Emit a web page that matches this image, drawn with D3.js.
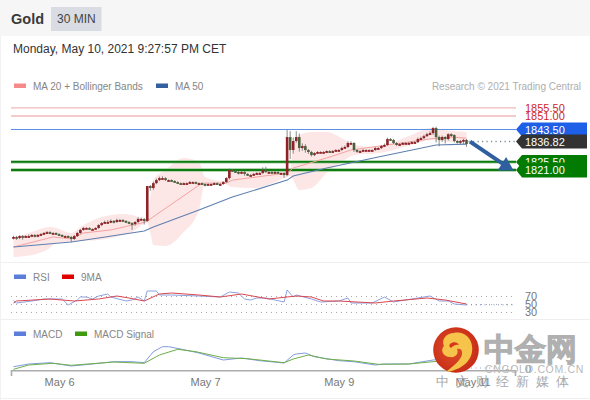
<!DOCTYPE html>
<html><head><meta charset="utf-8">
<script src="https://cdn.jsdelivr.net/npm/d3@7"></script>
<style>
html,body{margin:0;padding:0;background:#fff;overflow:hidden}
text{font-family:"Liberation Sans",Arial,sans-serif}
</style></head><body><svg id="c" width="590" height="400"></svg>
<script>
// ---------- Data ----------
const symbol = "Gold";
const timeframe = "30 MIN";
const stamp = "Monday, May 10, 2021 9:27:57 PM CET";
const credit = "Research © 2021 Trading Central";
const firstOpen = 1783.2;
const closes = [
1783.8,1783.2,1784.3,1783.8,1784.3,1784.3,1784.9,1784.3,1784.9,1785.4,
1786.0,1786.5,1786.0,1786.0,1785.4,1784.9,1784.3,1784.3,1783.8,1782.7,
1784.3,1786.0,1787.7,1788.8,1788.8,1788.2,1788.2,1788.8,1790.4,1791.5,
1792.1,1792.1,1792.7,1792.1,1793.2,1793.2,1792.7,1792.1,1791.5,1791.0,
1792.1,1793.8,1793.8,1792.7,1812.1,1811.0,1813.7,1815.4,1816.5,1816.5,
1815.4,1815.4,1814.9,1814.3,1813.7,1813.2,1813.7,1813.7,1814.3,1814.3,
1813.7,1813.7,1813.2,1812.7,1813.2,1813.2,1813.7,1813.2,1813.2,1814.3,
1816.5,1821.0,1820.4,1819.9,1819.3,1819.9,1818.8,1818.2,1818.2,1818.8,
1819.3,1819.3,1821.0,1819.9,1819.9,1819.3,1819.9,1819.3,1819.3,1818.2,
1839.3,1832.1,1837.1,1839.3,1833.2,1834.3,1832.1,1831.0,1829.3,1830.4,
1831.0,1831.0,1831.0,1831.5,1831.0,1831.5,1832.1,1832.1,1833.2,1833.8,
1836.0,1836.0,1832.1,1831.5,1831.5,1832.1,1832.1,1832.1,1832.1,1833.2,
1833.2,1834.3,1834.9,1838.2,1837.7,1836.0,1834.9,1835.4,1836.0,1836.0,
1836.0,1836.5,1836.5,1838.2,1838.7,1839.8,1840.9,1841.5,1844.3,1839.3,
1837.7,1839.3,1838.2,1840.9,1840.4,1837.1,1836.5,1837.1,1837.7,1835.4];
const wickUp = [
.6,.6,.5,.6,.5,.8,.5,.5,.6,.5,.6,.6,.5,.5,.4,.4,.4,.4,.4,.5,
.6,.6,.5,.5,.4,.4,.4,.4,.5,.6,.8,1.0,.8,.5,.8,.6,.6,.5,.5,.5,
.5,1.0,.8,.5,.0,.5,.8,.8,.8,1.0,.5,.4,.4,.4,.4,.4,.4,.4,.6,.4,
.4,.4,.4,.4,.4,.4,.4,.4,.5,.5,.5,.8,.5,.5,.5,.8,.5,.5,.5,.5,
.5,.5,1.5,1.8,.4,.5,.5,.4,.4,.5,3.9,3.3,2.0,3.3,2.0,1.5,1.0,.6,.6,.5,
.5,.4,.5,.4,.5,.6,.5,.5,.8,.8,1.0,1.0,.5,.5,.5,.5,.4,.4,.4,.5,
.5,.6,.8,.8,.6,.5,.5,.5,.5,.5,.6,.5,.6,.8,.8,.8,.8,1.0,.6,.8,
.8,.8,.5,.5,.5,.5,.5,.6,.6,.5];
const wickDown = [
.8,1.0,.6,1.5,.5,.6,.6,.8,.6,.6,.5,.5,.5,.5,.5,.5,.5,.4,.5,1.8,
.6,.5,.5,.5,.5,.5,.6,.5,.6,.6,.5,.6,.6,.8,.5,.6,.6,.6,.6,3.3,
1.0,.6,.8,2.0,.5,1.5,1.0,.6,.6,1.0,.5,.5,.5,.5,.5,.5,.5,.5,.5,.5,
.6,.5,.5,.8,.5,.5,.5,.5,.8,.5,.5,.8,.5,.5,.8,.6,1.0,.5,.8,.5,
.5,.5,.6,.6,.5,.5,.5,.5,.5,1.5,.6,5.0,2.0,1.0,2.0,1.5,1.5,1.0,.8,.6,
.5,.5,.5,.5,.5,.5,.5,.5,.5,.5,.6,.5,1.0,1.0,.5,.5,.6,.5,.5,.5,
.5,.5,.5,.5,.6,.6,.5,.5,.5,.5,.5,.5,.5,.5,.5,.5,.5,.5,1.0,3.0,
3.5,1.0,2.5,.8,1.0,.8,.8,1.2,1.6,1.5];

const ma20Idx = [0,13,19,23,32,42,44,62,70,72,90,92,103,111,139,144,149];
const ma20Val = [1778.2,1783.8,1782.7,1786.0,1787.7,1791.5,1792.7,1813.7,1813.7,1815.4,1819.3,1822.1,1827.7,1832.1,1838.7,1839.3,1838.7];
const ma50Idx = [0,19,28,43,46,61,72,90,92,103,120,139,149];
const ma50Val = [1778.2,1781.0,1783.2,1787.1,1789.3,1798.8,1806.0,1815.4,1817.7,1822.1,1828.2,1834.9,1835.4];

const bandIdx = [0,6,12,14,19,22,28,36,39,44,45,46,50,56,61,63,69,72,79,90,91,92,94,98,103,109,112,120,125,131,137,144,149];
const bandUpper = [1783.2,1786.5,1789.3,1788.8,1786.0,1789.3,1794.3,1796.5,1796.0,1793.2,1806.0,1815.4,1821.0,1827.7,1825.4,1817.1,1814.9,1821.0,1822.1,1821.0,1819.9,1834.9,1840.4,1842.1,1842.1,1837.7,1834.9,1833.8,1836.5,1840.4,1844.3,1842.7,1842.1];
const bandLower = [1772.7,1773.8,1777.7,1780.4,1781.0,1781.5,1782.1,1784.9,1786.5,1791.5,1786.0,1779.3,1778.8,1786.5,1798.8,1813.7,1813.7,1811.5,1811.0,1817.1,1817.7,1815.4,1809.9,1811.0,1819.3,1826.5,1829.3,1830.4,1832.1,1834.9,1837.7,1836.5,1836.5];

const resistLevels = [1855.50,1851.00];
const pivotLevel = 1843.50;
const lastPrice = 1836.82;
const supportLevels = [1825.50,1821.00];
const arrowIdx = [150,164.5];
const arrowVal = [1836.8,1821.0];

const rsiIdx = [0,1,6,10,16,18,21,22,24,26,28,31,32,37,39,41,43,44,47,48,52,61,68,71,74,76,78,80,83,89,90,92,93,98,101,107,110,111,118,122,125,131,137,140,143,145,149];
const rsiVal = [58.3,52.5,57.5,62.5,62.5,47.5,60,67.5,67.5,62.5,70,75,67.5,57.5,60,67.5,57.5,82.5,82.5,72.5,72.5,70,67.5,80,77.5,62.5,60,65,65,55,85,67.5,72.5,62.5,55,57.5,65,52.5,52.5,67.5,55,62.5,70,57.5,57.5,50,47.5];
const rsiMaIdx = [0,1,12,16,20,28,34,38,43,48,52,61,68,75,84,90,93,98,102,107,119,125,136,142,149];
const rsiMaVal = [52.5,57.5,62.5,60,57.5,62.5,70,65,57.5,75,77.5,72.5,67.5,75,62.5,67.5,70,67.5,57.5,57.5,52.5,57.5,65,60,50];
const rsiTicks = [70,50,30];

const macdIdx = [0,5,12,19,26,33,39,43,46,49,51,55,61,69,75,81,89,92,93,96,99,107,112,119,122,130,138,149];
const macdVal = [0.65,2,2.65,1,2,3.15,3.15,2.65,8.15,10.65,10.65,9.5,7.5,4,5,3.65,2.5,6.5,7,7.5,5.65,3.65,3.15,1.5,2,2,4,5];
const signalIdx = [0,5,13,19,33,43,48,54,60,69,77,89,92,97,103,112,120,130,138,149];
const signalVal = [-0.65,1.5,2.35,1.35,3,2.35,6.5,9.35,8.15,5.15,4.65,2.65,4.5,6.5,4.5,3.5,1.85,2,3.15,4.5];

const dateTickIdx = [15,63,107,151];
const dateTickLabels = ["May 6","May 7","May 9","May 11"];

// ---------- Scales ----------
const x = d3.scaleLinear().domain([0,149]).range([13.5,466.5]);
const y = d3.scaleLinear().domain([1821,1843.5]).range([170,129.5]);
const yRsi = d3.scaleLinear().domain([30,70]).range([312,296]);
const yMacd = d3.scaleLinear().domain([0,10]).range([368,348]);
const L = 11, R = 516;
const svg = d3.select("#c");

// ---------- Chrome ----------
svg.append("rect").attr("width",590).attr("height",400).attr("fill","#fff");
svg.append("rect").attr("width",590).attr("height",36).attr("fill","#f6f6f6");
svg.append("rect").attr("x",51).attr("y",7).attr("width",50.5).attr("height",24).attr("fill","#d9dce3");
svg.append("text").attr("x",11).attr("y",24).attr("font-size",14.5).attr("font-weight",700).attr("fill","#3a3a3a").text(symbol);
svg.append("text").attr("x",57).attr("y",23).attr("font-size",12).attr("fill","#444").text(timeframe);
svg.append("text").attr("x",13).attr("y",53).attr("font-size",12).attr("fill","#333").text(stamp);
[262,319,398].forEach(v=>svg.append("line").attr("x1",0).attr("x2",590).attr("y1",v+.5).attr("y2",v+.5).attr("stroke","#efefef"));
svg.append("line").attr("x1",.5).attr("x2",.5).attr("y1",36).attr("y2",400).attr("stroke","#f2f2f2");

// Legend helper
function legend(px,py,color,label){
  svg.append("rect").attr("x",px).attr("y",py-2.5).attr("width",12).attr("height",4.5).attr("fill",color);
  svg.append("text").attr("x",px+19).attr("y",py+3.5).attr("font-size",10).attr("fill","#868686").text(label);
}
legend(14,86,"#f58a8a","MA 20 + Bollinger Bands");
legend(156,86,"#34609f","MA 50");
svg.append("text").attr("x",581).attr("y",90).attr("text-anchor","end").attr("font-size",10).attr("fill","#aeaeae").text(credit);
legend(14,277,"#5b7fd9","RSI");
legend(62,277,"#e00000","9MA");
legend(14,334,"#5b7fd9","MACD");
legend(75,334,"#3f9a10","MACD Signal");

// ---------- Main panel ----------
const band = bandIdx.map((d,i)=>({i:d,u:bandUpper[i],l:bandLower[i]}));
svg.append("path").attr("d",d3.area().x(d=>x(d.i)).y0(d=>y(d.l)).y1(d=>y(d.u)).curve(d3.curveMonotoneX)(band)).attr("fill","#fde6e6");

const hl = (v,c,w)=>svg.append("line").attr("x1",L).attr("x2",R).attr("y1",y(v)).attr("y2",y(v)).attr("stroke",c).attr("stroke-width",w);
resistLevels.forEach(v=>hl(v,"#f2b8b8",1.4));
hl(pivotLevel,"#5a8fe6",1);
supportLevels.forEach(v=>{hl(v,"#9ccb9c",3.4);hl(v,"#0f7a0f",1.9);});

const line2 = (xs,ys,sc,col,w)=>svg.append("path")
  .attr("d",d3.line().x(d=>x(d[0])).y(d=>sc(d[1])).curve(d3.curveLinear)(xs.map((d,i)=>[d,ys[i]])))
  .attr("fill","none").attr("stroke",col).attr("stroke-width",w);
line2(ma20Idx,ma20Val,y,"#f5a3a3",1);
line2(ma50Idx,ma50Val,y,"#5f7fb0",1.1);

// Candles
const candles = closes.map((c,i)=>{
  const o = i? closes[i-1]:firstOpen;
  return {i,o,c,h:Math.max(o,c)+wickUp[i],l:Math.min(o,c)-wickDown[i]};
});
const cg = svg.append("g");
cg.selectAll("line").data(candles).join("line")
  .attr("x1",d=>x(d.i)).attr("x2",d=>x(d.i)).attr("y1",d=>y(d.h)).attr("y2",d=>y(d.l))
  .attr("stroke","#6d6d6d").attr("stroke-width",.8);
cg.selectAll("rect").data(candles).join("rect")
  .attr("x",d=>x(d.i)-1.3).attr("width",2.6)
  .attr("y",d=>y(Math.max(d.o,d.c)))
  .attr("height",d=>Math.max(1.8,Math.abs(y(d.o)-y(d.c))))
  .attr("fill",d=>d.c>=d.o?"#8e2226":"#4c5f3c");

// Last price dotted extension
svg.append("line").attr("x1",x(149)+2).attr("x2",R).attr("y1",y(lastPrice)).attr("y2",y(lastPrice))
  .attr("stroke","#7e8a92").attr("stroke-width",1.6).attr("stroke-dasharray","1.2 3.3");

// Forecast arrow
const ax0=x(arrowIdx[0]),ay0=y(arrowVal[0]),ax1=x(arrowIdx[1]),ay1=y(arrowVal[1]);
svg.append("line").attr("x1",ax0+.5).attr("y1",ay0).attr("x2",ax0+33).attr("y2",ay0+22)
  .attr("stroke","#2f5f9e").attr("stroke-width",4);
svg.append("path").attr("d",`M${ax1},${ay1+.5}L${ax1-16},${ay1+.5}L${ax1-7.5},${ay1-13}Z`).attr("fill","#2f5f9e");

// Price labels
resistLevels.forEach(v=>svg.append("text").attr("x",525).attr("y",y(v)+4).attr("font-size",11).attr("fill","#cc1f26").text(v.toFixed(2)));
function tag(v,color,h){
  const c=y(v),t=h/2;
  svg.append("path").attr("d",`M516,${c}L522,${c-t}L587,${c-t}L587,${c+t}L522,${c+t}Z`).attr("fill",color);
  svg.append("text").attr("x",525).attr("y",c+4).attr("font-size",11).attr("fill","#fff").text(v.toFixed(2));
}
tag(supportLevels[0],"#027b02",14);
tag(supportLevels[1],"#027b02",15);
tag(pivotLevel,"#1d5fe6",14);
tag(lastPrice,"#333333",14);

// ---------- RSI panel ----------
rsiTicks.forEach(t=>{
  svg.append("line").attr("x1",L).attr("x2",R).attr("y1",yRsi(t)+.5).attr("y2",yRsi(t)+.5)
    .attr("stroke","#a9a9a9").attr("stroke-width",1).attr("stroke-dasharray","1 4");
});
d3.select(svg.node()).selectAll(null).data(rsiTicks).join("text")
  .attr("x",525).attr("y",t=>yRsi(t)+4).attr("font-size",11).attr("fill","#777").text(t=>t);
svg.append("line").attr("x1",x(149)).attr("x2",R).attr("y1",yRsi(48)).attr("y2",yRsi(48))
  .attr("stroke","#7d8fc8").attr("stroke-width",1).attr("stroke-dasharray","1 3.5");
line2(rsiIdx,rsiVal,yRsi,"#7f97dd",.9);
line2(rsiMaIdx,rsiMaVal,yRsi,"#d9474f",1);

// ---------- MACD panel ----------
line2(macdIdx,macdVal,yMacd,"#7f9be0",1);
line2(signalIdx,signalVal,yMacd,"#6fae4a",1);
svg.append("line").attr("x1",x(149)).attr("x2",R).attr("y1",yMacd(0)).attr("y2",yMacd(0))
  .attr("stroke","#9aa6c0").attr("stroke-width",1).attr("stroke-dasharray","1 3.5");
svg.append("text").attr("x",525).attr("y",yMacd(0)+5).attr("font-size",11).attr("fill","#777").text("0");

// Time axis
const axis = d3.axisBottom(x).tickValues(dateTickIdx).tickFormat((d,i)=>dateTickLabels[i]).tickSize(0).tickPadding(8);
const ax = svg.append("g").attr("transform","translate(0,370)").call(axis);
ax.select(".domain").remove();
ax.selectAll("text").attr("font-size",11).attr("fill","#777").attr("font-family","Liberation Sans");
svg.append("path").attr("d",`M${L+.5},376V370.7H${R-.5}V376`).attr("fill","none").attr("stroke","#ababab").attr("stroke-width",1.6);

// ---------- Watermark ----------
const wm = svg.append("g");
const grad = svg.append("defs").append("radialGradient").attr("id","g").attr("cx",".45").attr("cy",".45").attr("r",".6");
grad.append("stop").attr("offset","0").attr("stop-color","#e2512a");
grad.append("stop").attr("offset","1").attr("stop-color","#c52a16");
wm.append("circle").attr("cx",456).attr("cy",350).attr("r",22.8).attr("fill","url(#g)");
wm.append("path").attr("d","M446,372 C462,370 474,360 472,346 C471,337 463,331 454,333 C446,333 441,340 444,346 C440,350 443,357 450,357 C456,358 459,353 457,349 C459,348 462,349 462,352 C463,358 456,364 446,372Z").attr("fill","#f6c44a");
wm.append("path").attr("d","M450,344 C453,341 458,342 459,345 C456,344 453,346 451,348 C449,347 449,345 450,344Z").attr("fill","#d8361a");
wm.append("text").attr("x",484).attr("y",360).attr("font-size",31).attr("font-weight",700)
  .attr("font-family","'Noto Sans CJK SC'").attr("fill","#b0b0b0").attr("stroke","#b0b0b0").attr("stroke-width",1.1).text("中金网");
wm.append("text").attr("x",485).attr("y",373).attr("font-size",10.5).attr("letter-spacing",.65).attr("fill","#b9b9b9").text("CNGOLD.COM.CN");
wm.append("text").attr("x",436).attr("y",386).attr("font-size",13).attr("letter-spacing",7)
  .attr("font-family","'Noto Sans CJK SC'").attr("fill","#a8a8a8").text("中文财经新媒体");
</script></body></html>
